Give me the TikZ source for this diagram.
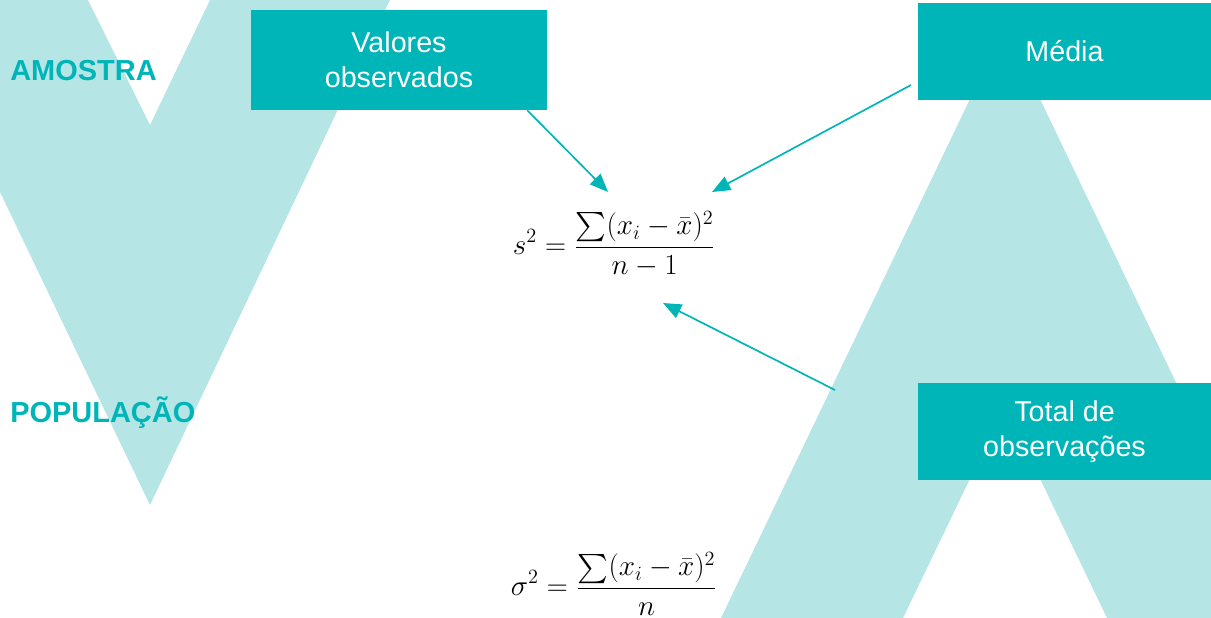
\documentclass[tikz,border=0pt]{standalone}
\usepackage{amsmath}
\usepackage{fontspec}
\newfontfamily\arialfont{Liberation Sans}
\usetikzlibrary{positioning,arrows.meta}
\definecolor{tealbox}{HTML}{00B5B8}
\definecolor{tealpale}{HTML}{B6E5E5}

\begin{document}
\begin{tikzpicture}[
  x=0.025cm, y=-0.025cm,
  box/.style={fill=tealbox, text=white, minimum width=7.4cm, minimum height=2.5cm, align=center,
    font=\arialfont\fontsize{20.4}{25}\selectfont, inner sep=0pt},
  sidebox/.style={box, minimum width=7.325cm, minimum height=2.425cm},
  label/.style={text=tealbox, inner sep=0pt, anchor=base west, font=\arialfont\bfseries\fontsize{20.6}{24}\selectfont},
  formula/.style={inner sep=0pt, font=\fontsize{20}{24}\selectfont},
  arrow/.style={-{Triangle[length=13pt,width=10.5pt]}, tealbox, line width=1.2pt}
]
\useasboundingbox (0,0) rectangle (1211,618);

% background letters
\begin{scope}
\clip (0,0) rectangle (1211,618);
\fill[tealpale] (-92,0) -- (88,0) -- (150,125) -- (210,0) -- (390,0) -- (150,505) -- cycle;
\fill[tealpale] (1005,26) -- (1289,618) -- (1107,618) -- (1005,406) -- (903,618) -- (721,618) -- cycle;
\end{scope}

\node[label] (amostra) at (10,80) {AMOSTRA};
\node[label] (populacao) at (10,422) {POPULAÇÃO};

\node[box] (valores) at (399,60) {Valores\\observados};
\node[sidebox] (media) at (1064.5,51.5) {Média};
\node[sidebox] (total) at (1064.5,431.5) {Total de\\observações};

\node[formula] (amostral) at (614,244) {$\displaystyle s^2 = \frac{\sum(x_i-\bar{x})^2}{n-1}$};
\node[formula] (populacional) at (614,584) {$\displaystyle \sigma^2 = \frac{\sum(x_i-\bar{x})^2}{n}$};

\coordinate (tailmedia) at (911,85);
\coordinate (tailtotal) at (835,390);
\coordinate (tipvalores) at (608,192);
\coordinate (tipmedia) at (712,192);
\coordinate (tiptotal) at (663,303);

\draw[arrow] ([xshift=-0.5cm]valores.south east) -- (tipvalores);
\draw[arrow] (tailmedia) -- (tipmedia);
\draw[arrow] (tailtotal) -- (tiptotal);

\end{tikzpicture}
\end{document}
